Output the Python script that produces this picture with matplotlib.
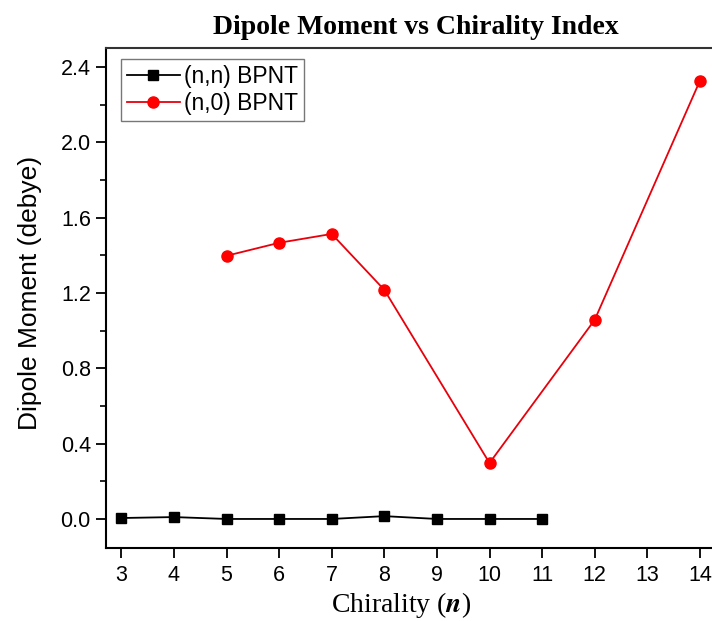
import numpy as np
import matplotlib.pyplot as plt
from matplotlib.ticker import MultipleLocator

# (n,n) armchair BPNT
nn_x = [3, 4, 5, 6, 7, 8, 9, 10, 11]
nn_y = [0.005, 0.01, 0.0, 0.0, 0.0, 0.015, 0.0, 0.0, 0.0]

# (n,0) zigzag BPNT
n0_x = [5, 6, 7, 8, 10, 12, 14]
n0_y = [1.397, 1.466, 1.513, 1.216, 0.297, 1.057, 2.326]

fig = plt.figure(figsize=(7.12, 6.21), dpi=100)
ax = fig.add_axes([0.149, 0.1176, 0.851, 0.8051])

ax.plot(nn_x, nn_y, color='black', marker='s', markersize=6.5, linewidth=1.3,
        label='(n,n) BPNT')
ax.plot(n0_x, n0_y, color='#e8000b', marker='o', markersize=8, linewidth=1.3,
        markerfacecolor='red', markeredgecolor='red', label='(n,0) BPNT')

ax.set_xlim(2.71, 14.23)
ax.set_ylim(-0.154, 2.5)
ax.set_xticks(np.arange(3, 15))
ax.yaxis.set_major_locator(MultipleLocator(0.4))
ax.yaxis.set_minor_locator(MultipleLocator(0.2))
ax.yaxis.set_major_formatter(plt.FuncFormatter(lambda v, p: f'{v:.1f}'))

ax.spines['right'].set_visible(False)
for s in ['left', 'bottom', 'top']:
    ax.spines[s].set_linewidth(1.5)
ax.spines['top'].set_color('#333333')

ax.tick_params(axis='both', which='major', direction='out', length=7, width=1.3,
               labelsize=15.5, labelfontfamily='Liberation Sans', colors='black')
ax.tick_params(axis='y', which='minor', direction='out', length=4, width=1.2)
ax.tick_params(axis='x', pad=5)
ax.tick_params(axis='y', pad=4)

fig.text(30 / 712, 1 - 293 / 621, 'Dipole Moment (debye)', fontsize=19,
         family='Liberation Sans', rotation=90, ha='center', va='center')
fig.text(401 / 712, 1 - 605 / 621, r'Chirality ($\boldsymbol{n}$)', fontsize=20,
         family='Liberation Serif', ha='center', va='center',
         math_fontfamily='stix')
fig.text(416 / 712, 1 - 27 / 621, 'Dipole Moment vs Chirality Index', fontsize=20,
         family='Liberation Serif', weight='bold', ha='center', va='center')

leg = ax.legend(loc='upper left', bbox_to_anchor=(0.025, 0.978), fancybox=False,
                prop={'family': 'Liberation Sans', 'size': 16.5}, handlelength=2.3,
                borderpad=0.25, labelspacing=0.2, handletextpad=0.2,
                borderaxespad=0)
leg.get_frame().set_edgecolor('#555555')
leg.get_frame().set_linewidth(1.0)

fig.savefig('out.png', dpi=100)
